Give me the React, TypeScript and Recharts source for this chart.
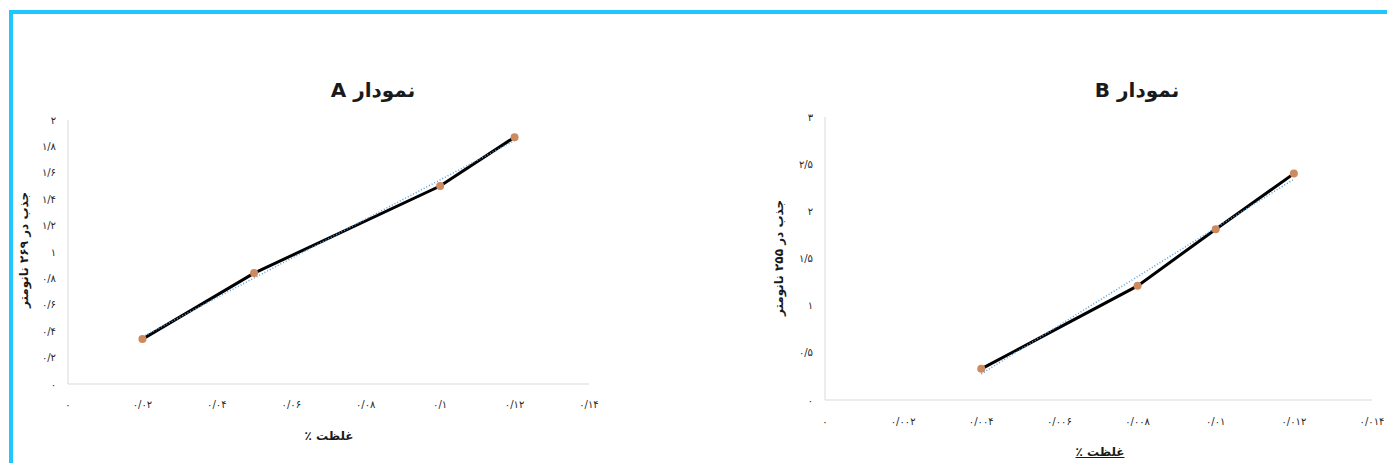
import React from "react";
import { ComposedChart, Line, Scatter, XAxis, YAxis } from "recharts";

// ---------------------------------------------------------------------------
// Data
// ---------------------------------------------------------------------------
const concA = [0.02, 0.05, 0.1, 0.12];
const absA = [0.34, 0.84, 1.5, 1.87];
const xTicksA = [0, 0.02, 0.04, 0.06, 0.08, 0.1, 0.12, 0.14];
const yTicksA = [0, 0.2, 0.4, 0.6, 0.8, 1, 1.2, 1.4, 1.6, 1.8, 2];

const concB = [0.004, 0.008, 0.01, 0.012];
const absB = [0.33, 1.21, 1.81, 2.4];
const xTicksB = [0, 0.002, 0.004, 0.006, 0.008, 0.01, 0.012, 0.014];
const yTicksB = [0, 0.5, 1, 1.5, 2, 2.5, 3];

const titleA = "نمودار A";
const titleB = "نمودار B";
const yLabelA = "جذب در ۲۶۹ نانومتر";
const yLabelB = "جذب در ۲۵۵ نانومتر";
const xLabel = "غلظت ٪";

// ---------------------------------------------------------------------------
// Helpers
// ---------------------------------------------------------------------------
const FA_DIGITS = "۰۱۲۳۴۵۶۷۸۹";
function toFa(v: number): string {
  return String(v)
    .replace(".", "/")
    .replace(/[0-9]/g, (d) => FA_DIGITS[Number(d)]);
}

// least squares line, drawn like Excel's linear trendline
function trend(xs: number[], ys: number[]) {
  const n = xs.length;
  const mx = xs.reduce((a, b) => a + b, 0) / n;
  const my = ys.reduce((a, b) => a + b, 0) / n;
  let sxy = 0;
  let sxx = 0;
  xs.forEach((x, i) => {
    sxy += (x - mx) * (ys[i] - my);
    sxx += (x - mx) * (x - mx);
  });
  const b = sxy / sxx;
  const a = my - b * mx;
  const x0 = Math.min(...xs);
  const x1 = Math.max(...xs);
  return [
    { x: x0, y: a + b * x0 },
    { x: x1, y: a + b * x1 },
  ];
}

const FONT = "'DejaVu Sans', sans-serif";
const TICK = { fontSize: 10, fill: "#262626", fontFamily: FONT };
const AXIS = { stroke: "#D9D9D9" };

interface PanelProps {
  left: number;
  width: number;
  xs: number[];
  ys: number[];
  xTicks: number[];
  yTicks: number[];
  yWidth: number;
  right: number;
  top: number;
  xHeight: number;
  xTickMargin: number;
}

function Panel(p: PanelProps) {
  const data = p.xs.map((x, i) => ({ x, y: p.ys[i] }));
  const xMax = p.xTicks[p.xTicks.length - 1];
  const yMax = p.yTicks[p.yTicks.length - 1];
  return (
    <div style={{ position: "absolute", left: p.left, top: 0 }}>
      <ComposedChart
        width={p.width}
        height={463}
        data={data}
        margin={{ top: p.top, right: p.right, left: 0, bottom: 0 }}
      >
        <XAxis
          type="number"
          dataKey="x"
          domain={[0, xMax]}
          ticks={p.xTicks}
          tickFormatter={toFa}
          tick={TICK}
          tickLine={false}
          tickSize={0}
          tickMargin={p.xTickMargin}
          axisLine={AXIS}
          height={p.xHeight}
          interval={0}
        />
        <YAxis
          type="number"
          dataKey="y"
          domain={[0, yMax]}
          ticks={p.yTicks}
          tickFormatter={toFa}
          tick={TICK}
          tickLine={false}
          tickSize={0}
          tickMargin={12}
          axisLine={AXIS}
          width={p.yWidth}
          interval={0}
        />
        <Line
          dataKey="y"
          stroke="#000000"
          strokeWidth={3}
          dot={false}
          isAnimationActive={false}
        />
        <Line
          data={trend(p.xs, p.ys)}
          dataKey="y"
          stroke="#5B9BD5"
          strokeWidth={1.5}
          strokeDasharray="1 2"
          dot={false}
          isAnimationActive={false}
        />
        <Scatter
          dataKey="y"
          fill="#CD8A5F"
          shape={(s: any) => <circle cx={s.cx} cy={s.cy} r={4} fill="#CD8A5F" />}
          isAnimationActive={false}
        />
      </ComposedChart>
    </div>
  );
}

function Text({
  x,
  y,
  size,
  children,
  rotate,
  underline,
}: {
  x: number;
  y: number;
  size: number;
  children: string;
  rotate?: boolean;
  underline?: boolean;
}) {
  return (
    <div
      dir="rtl"
      style={{
        position: "absolute",
        left: x,
        top: y,
        transform: `translate(-50%, -50%)${rotate ? " rotate(-90deg)" : ""}`,
        whiteSpace: "nowrap",
        fontFamily: FONT,
        fontWeight: "bold",
        fontSize: size,
        color: "#1a1a1a",
        textDecoration: underline ? "underline" : "none",
      }}
    >
      {children}
    </div>
  );
}

// ---------------------------------------------------------------------------
// App
// ---------------------------------------------------------------------------
export default function App() {
  return (
    <div
      style={{
        position: "absolute",
        left: 0,
        top: 0,
        width: 1387,
        height: 463,
        background: "#FFFFFF",
        overflow: "hidden",
      }}
    >
      <div
        style={{
          position: "absolute",
          left: 9,
          top: 10,
          width: 1500,
          height: 600,
          borderTop: "4px solid #1FC6FF",
          borderLeft: "4px solid #1FC6FF",
        }}
      />

      <Panel
        left={0}
        width={700}
        xs={concA}
        ys={absA}
        xTicks={xTicksA}
        yTicks={yTicksA}
        yWidth={68}
        right={111}
        top={120}
        xHeight={79}
        xTickMargin={17}
      />
      <Panel
        left={700}
        width={687}
        xs={concB}
        ys={absB}
        xTicks={xTicksB}
        yTicks={yTicksB}
        yWidth={125}
        right={15}
        top={117}
        xHeight={63}
        xTickMargin={18}
      />

      <Text x={373} y={90} size={20}>{titleA}</Text>
      <Text x={1137} y={90} size={20}>{titleB}</Text>
      <Text x={24} y={250} size={12} rotate>{yLabelA}</Text>
      <Text x={779} y={258} size={12} rotate>{yLabelB}</Text>
      <Text x={329} y={436} size={12}>{xLabel}</Text>
      <Text x={1100} y={452} size={12} underline>{xLabel}</Text>
    </div>
  );
}
